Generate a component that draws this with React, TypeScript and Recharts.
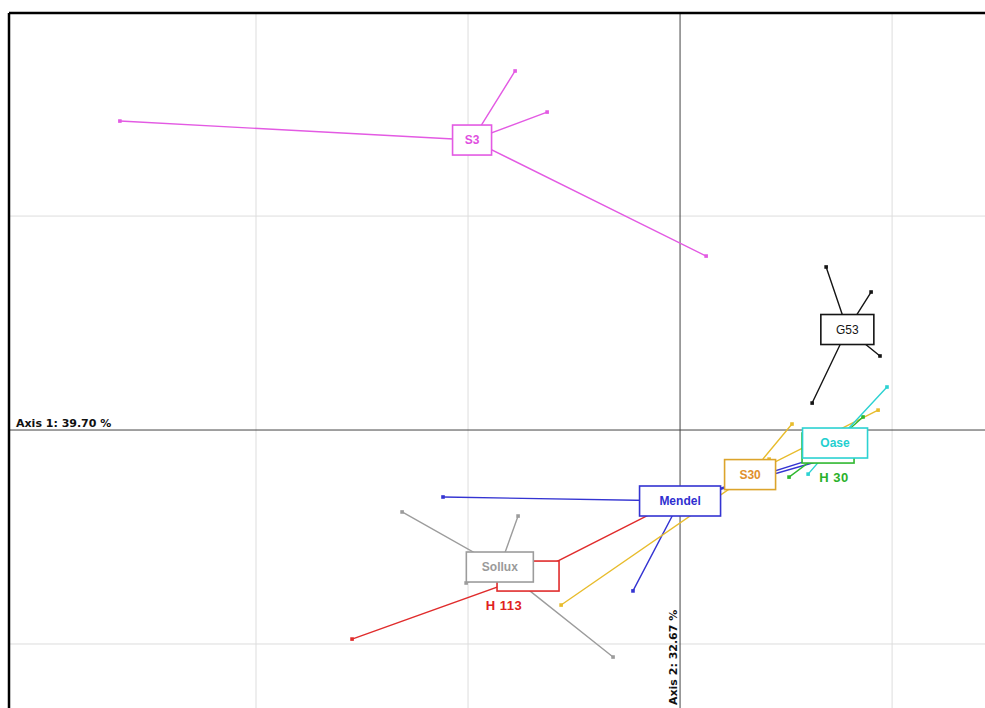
import React from "react";
import { ScatterChart, Scatter, XAxis, YAxis, ReferenceLine } from "recharts";

// Group labels, drawn in this order (later boxes sit on top of earlier ones)
const groupNames = ["S3", "G53", "H 113", "Sollux", "Mendel", "S30", "H 30", "Oase"];

// Individual scores on the first two axes, one array per group
const s3Points = [
  { x: -2.642, y: 1.444 },
  { x: -0.778, y: 1.678 },
  { x: -0.627, y: 1.486 },
  { x: 0.123, y: 0.813 },
];
const g53Points = [
  { x: 0.689, y: 0.762 },
  { x: 0.901, y: 0.645 },
  { x: 0.943, y: 0.346 },
  { x: 0.623, y: 0.126 },
];
const h113Points = [
  { x: -1.547, y: -0.977 },
  { x: 0.047, y: -0.299 },
  { x: -0.693, y: -0.734 },
  { x: -0.675, y: -0.72 },
];
const solluxPoints = [
  { x: -1.311, y: -0.383 },
  { x: -0.764, y: -0.402 },
  { x: -0.316, y: -1.061 },
  { x: -1.009, y: -0.715 },
];
const mendelPoints = [
  { x: -1.118, y: -0.313 },
  { x: -0.222, y: -0.752 },
  { x: 0.684, y: -0.117 },
  { x: 0.656, y: -0.145 },
];
const s30Points = [
  { x: -0.561, y: -0.818 },
  { x: 0.528, y: 0.028 },
  { x: 0.934, y: 0.093 },
  { x: 0.42, y: -0.136 },
];
const h30Points = [
  { x: 0.863, y: 0.061 },
  { x: 0.514, y: -0.22 },
  { x: 0.689, y: -0.103 },
  { x: 0.726, y: -0.075 },
];
const oasePoints = [
  { x: 0.976, y: 0.201 },
  { x: 0.604, y: -0.206 },
  { x: 0.66, y: -0.126 },
  { x: 0.684, y: -0.112 },
];

const axisTitles = ["Axis 1: 39.70 %", "Axis 2: 32.67 %"];
const gridX = [-2, -1, 1];
const gridY = [1, -1];

const pointsByGroup: Record<string, { x: number; y: number }[]> = {
  S3: s3Points,
  G53: g53Points,
  "H 113": h113Points,
  Sollux: solluxPoints,
  Mendel: mendelPoints,
  S30: s30Points,
  "H 30": h30Points,
  Oase: oasePoints,
};

// Styling per group: line colour, box outline, label colour/weight, box width, label offset
const groupStyle: Record<
  string,
  { line: string; box: string; text: string; weight: number; w: number; dx: number; dy: number; size: number }
> = {
  S3: { line: "#E35AE3", box: "#E35AE3", text: "#E04FE0", weight: 700, w: 39, dx: 0, dy: 0, size: 12 },
  G53: { line: "#151515", box: "#151515", text: "#151515", weight: 400, w: 53, dx: 0, dy: 0, size: 12 },
  "H 113": { line: "#E02C2C", box: "#E02C2C", text: "#E02020", weight: 700, w: 62, dx: -24, dy: 29, size: 13 },
  Sollux: { line: "#9C9C9C", box: "#9C9C9C", text: "#9A9A9A", weight: 700, w: 67, dx: 0, dy: 0, size: 12 },
  Mendel: { line: "#3434D2", box: "#3434D2", text: "#2F2FD0", weight: 700, w: 81, dx: 0, dy: 0, size: 12 },
  S30: { line: "#E8BC2C", box: "#DCA42C", text: "#E0902C", weight: 700, w: 51, dx: 0, dy: 0, size: 12 },
  "H 30": { line: "#2FB82F", box: "#2FB82F", text: "#2AB22A", weight: 700, w: 52, dx: 6, dy: 29, size: 13 },
  Oase: { line: "#2CD2D2", box: "#2CD2D2", text: "#24CFCF", weight: 700, w: 65, dx: 0, dy: 0, size: 12 },
};

const mean = (pts: { x: number; y: number }[]) => ({
  x: pts.reduce((s, p) => s + p.x, 0) / pts.length,
  y: pts.reduce((s, p) => s + p.y, 0) / pts.length,
});

const centroids = groupNames.map((name) => ({ name, ...mean(pointsByGroup[name]) }));

// Star: centre -> point -> centre -> point ... so a joined line draws every ray
const starData = (name: string) => {
  const c = mean(pointsByGroup[name]);
  return pointsByGroup[name].flatMap((p) => [
    { x: c.x, y: c.y, centre: true },
    { x: p.x, y: p.y, centre: false },
  ]);
};

const X_MIN = -3.165;
const X_MAX = 1.509;
const Y_MIN = -1.402;
const Y_MAX = 1.949;

const FONT = "'Liberation Sans', Arial, Helvetica, sans-serif";
const AXIS_FONT = "'DejaVu Sans', Verdana, sans-serif";

const makeMarker = (color: string) => (props: any) => {
  const { cx, cy, payload } = props;
  if (payload.centre || cx == null) return <g />;
  return <rect x={cx - 1.8} y={cy - 1.8} width={3.6} height={3.6} fill={color} />;
};

const LabelBox = (props: any) => {
  const { cx, cy, payload } = props;
  const st = groupStyle[payload.name];
  return (
    <g>
      <rect
        x={cx - st.w / 2}
        y={cy - 15}
        width={st.w}
        height={30}
        fill="#ffffff"
        stroke={st.box}
        strokeWidth={1.6}
      />
      <text
        x={cx + st.dx}
        y={cy + st.dy}
        textAnchor="middle"
        dominantBaseline="central"
        fontFamily={FONT}
        fontSize={st.size}
        fontWeight={st.weight}
        fill={st.text}
        letterSpacing={st.size > 12 ? 0.5 : 0}
      >
        {payload.name}
      </text>
    </g>
  );
};

export default function App() {
  return (
    <div style={{ position: "absolute", left: 0, top: 0, width: 985, height: 708, overflow: "hidden", background: "#fff" }}>
      <ScatterChart width={1000} height={730} margin={{ top: 13, left: 9, right: 0, bottom: 0 }}>
        <XAxis type="number" dataKey="x" domain={[X_MIN, X_MAX]} allowDataOverflow hide />
        <YAxis type="number" dataKey="y" domain={[Y_MIN, Y_MAX]} allowDataOverflow hide />

        {gridX.map((v) => (
          <ReferenceLine key={`gx${v}`} x={v} stroke="#dddddd" strokeWidth={1} />
        ))}
        {gridY.map((v) => (
          <ReferenceLine key={`gy${v}`} y={v} stroke="#dddddd" strokeWidth={1} />
        ))}

        <ReferenceLine
          y={0}
          stroke="#444444"
          strokeWidth={1}
          label={(p: any) => (
            <text
              x={p.viewBox.x + 7}
              y={p.viewBox.y - 3}
              fontFamily={AXIS_FONT}
              fontSize={11}
              fontWeight={700}
              fill="#111"
            >
              {axisTitles[0]}
            </text>
          )}
        />
        <ReferenceLine
          x={0}
          stroke="#444444"
          strokeWidth={1}
          label={(p: any) => {
            const tx = p.viewBox.x - 3;
            const ty = p.viewBox.y + 692;
            return (
              <text
                x={tx}
                y={ty}
                transform={`rotate(-90 ${tx} ${ty})`}
                fontFamily={AXIS_FONT}
                fontSize={11}
                fontWeight={700}
                fill="#111"
              >
                {axisTitles[1]}
              </text>
            );
          }}
        />

        {/* frame: top and left borders */}
        <ReferenceLine y={Y_MAX} stroke="#000" strokeWidth={2.5} />
        <ReferenceLine x={X_MIN} stroke="#000" strokeWidth={2.5} />

        {groupNames.map((name) => (
          <Scatter
            key={name}
            name={name}
            data={starData(name)}
            dataKey="y"
            line={{ stroke: groupStyle[name].line, strokeWidth: 1.4 }}
            lineType="joint"
            shape={makeMarker(groupStyle[name].line)}
            isAnimationActive={false}
          />
        ))}

        <Scatter data={centroids} dataKey="y" shape={LabelBox} isAnimationActive={false} />
      </ScatterChart>
    </div>
  );
}
